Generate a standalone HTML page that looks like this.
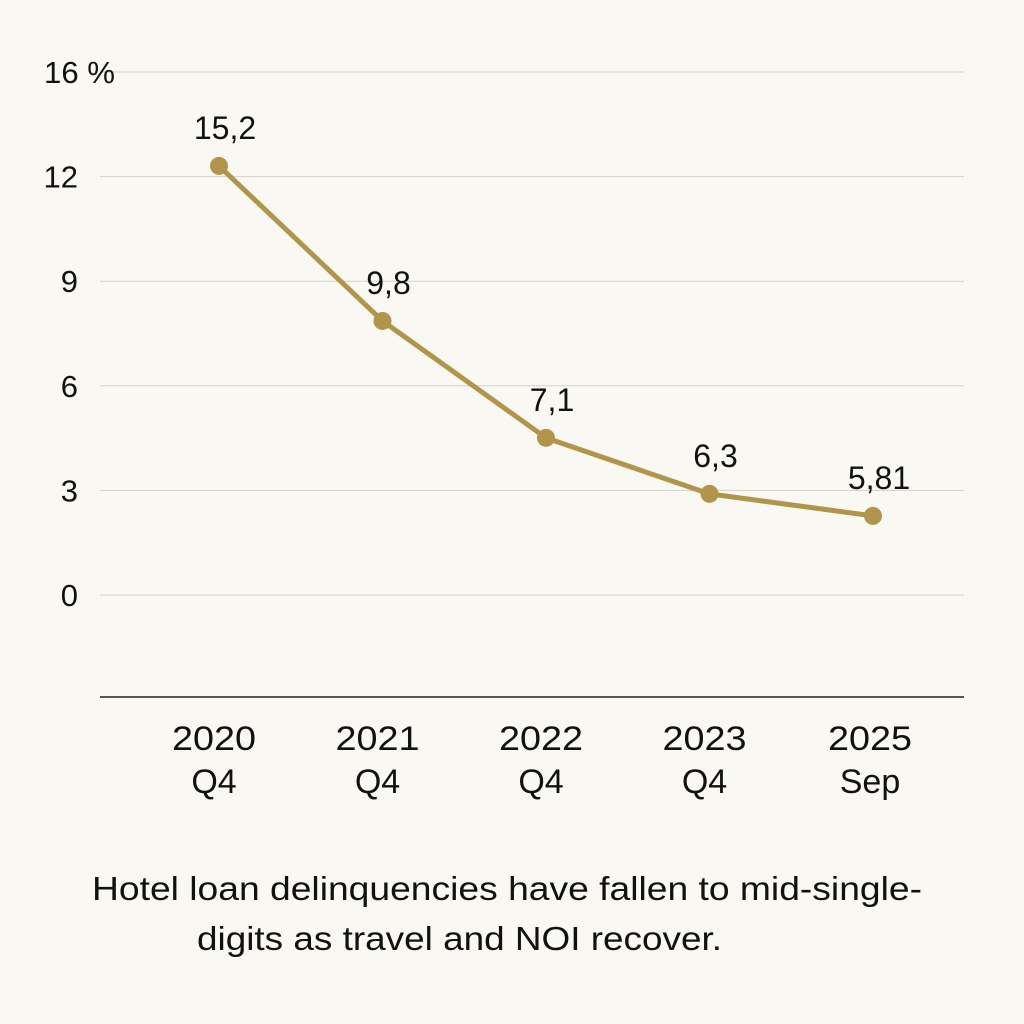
<!DOCTYPE html>
<html><head><meta charset="utf-8"><style>
body{margin:0;background:#faf8f3;}
svg{display:block;font-family:"Liberation Sans",sans-serif;}
</style></head><body>
<svg id="chart" width="1024" height="1024" viewBox="0 0 1024 1024">
<rect width="1024" height="1024" fill="#faf8f3"/>
<g id="grid"></g><g id="series"></g><g id="xlabels"></g>
<line x1="100" y1="697" x2="964" y2="697" stroke="#222" stroke-width="1.5"/>
<text x="92" y="900" font-size="33" textLength="830" lengthAdjust="spacingAndGlyphs" fill="#111">Hotel loan delinquencies have fallen to mid-single-</text>
<text x="197" y="950" font-size="33" textLength="525" lengthAdjust="spacingAndGlyphs" fill="#111">digits as travel and NOI recover.</text>
</svg>
<script>
const categories=[["2020","Q4"],["2021","Q4"],["2022","Q4"],["2023","Q4"],["2025","Sep"]];
const values=[12.26,7.83,4.49,2.89,2.26];
const valueLabels=["15,2","9,8","7,1","6,3","5,81"];
const tickLabels=["0","3","6","9","12","16 %"];
const ns="http://www.w3.org/2000/svg";
function mk(t,a,p){const e=document.createElementNS(ns,t);for(const k in a)e.setAttribute(k,a[k]);p.appendChild(e);return e;}
const y0=595,pxPer=35;
const ys=v=>y0-v*pxPer;
const xs=i=>219+i*163.5;
const grid=document.getElementById('grid');
tickLabels.forEach((t,i)=>{const y=y0-i*104.6;
 const l=mk('line',{x1:100,x2:964,y1:y,y2:y,stroke:'#d4d2cc','stroke-width':1},grid);
 
 
 const a={x:i==5?44:78,y:y+11,'font-size':31,'text-anchor':i==5?'start':'end',fill:'#111'};
 if(i==5){a.textLength=71;a.lengthAdjust='spacingAndGlyphs';}
 const tx=mk('text',a,grid);tx.textContent=t;
 
 
});
const s=document.getElementById('series');
const pl=mk('polyline',{points:values.map((v,i)=>xs(i)+','+ys(v)).join(' '),fill:'none',stroke:'#b1954a','stroke-width':5,'stroke-linejoin':'round'},s);


values.forEach((v,i)=>{
 const c=mk('circle',{cx:xs(i),cy:ys(v),r:9,fill:'#b1954a'},s);
 
 
 const t=mk('text',{x:xs(i)+6,y:ys(v)-27,'font-size':32,'text-anchor':'middle',fill:'#111'},s);t.textContent=valueLabels[i];
 
 
});
const xl=document.getElementById('xlabels');
categories.forEach((c,i)=>{c.forEach((ln,j)=>{
 const a={x:xs(i)-5+(i==4?2:0),y:750+j*43,'font-size':34,'text-anchor':'middle',fill:'#111'};
 if(j==0){a.textLength=84;a.lengthAdjust='spacingAndGlyphs';}
 const t=mk('text',a,xl);t.textContent=ln;
 
 
});});
</script>
</body></html>
